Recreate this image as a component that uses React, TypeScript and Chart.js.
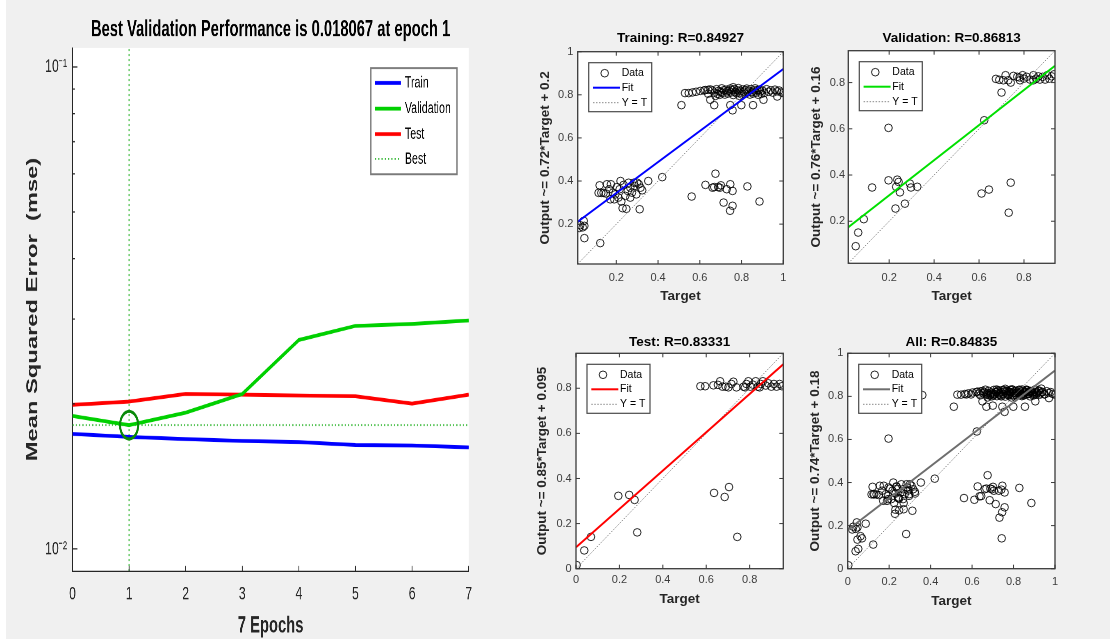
import React, { useEffect, useRef } from 'react';
import { Chart, registerables } from 'chart.js';

Chart.register(...registerables);

const FONT = '"Liberation Sans", Arial, Helvetica, sans-serif';

// ---------------- Performance plot data ----------------
const epochs = [0, 1, 2, 3, 4, 5, 6, 7];
const trainPerf = [0.01733, 0.01708, 0.01691, 0.01675, 0.01667, 0.01643, 0.0164, 0.01625];
const valPerf = [0.01888, 0.018067, 0.01918, 0.02097, 0.02714, 0.02903, 0.0293, 0.0298];
const testPerf = [0.0199, 0.02022, 0.02098, 0.0209, 0.02082, 0.02074, 0.02002, 0.0209];
const bestEpoch = 1;
const bestPerf = 0.018067;
const perfRange = [0.009, 0.1095];
const perfMajorTicks = [0.01, 0.1];
const perfMajorLabels = ['10⁻²', '10⁻¹'];
const perfMinorTicks = [0.02, 0.03, 0.04, 0.05, 0.06, 0.07, 0.08, 0.09];
const perfTitle = 'Best Validation Performance is 0.018067 at epoch 1';
const perfXTitle = '7 Epochs';
const perfYTitle = 'Mean Squared Error  (mse)';
const perfLegend = ['Train', 'Validation', 'Test', 'Best'];

// ---------------- Regression data ----------------
const trainTargets = [
  0.027, 0.039, 0.047, 0.022, 0.044, 0.047, 0.123, 0.12, 0.115, 0.128, 0.139, 0.155, 0.174, 0.166, 0.171,
  0.19, 0.195, 0.203, 0.216, 0.224, 0.23, 0.248, 0.235, 0.243, 0.255, 0.259, 0.267, 0.275, 0.288, 0.3,
  0.308, 0.316, 0.312, 0.324, 0.296, 0.353, 0.42, 0.22, 0.15, 0.184, 0.21, 0.267, 0.284,
  0.561, 0.627, 0.675, 0.669, 0.688, 0.701, 0.696, 0.714, 0.729, 0.746, 0.757, 0.757, 0.745, 0.828, 0.886, 0.661,
  0.512, 0.529, 0.547, 0.565, 0.582, 0.602, 0.626, 0.64, 0.65, 0.669, 0.746, 0.757, 0.799, 0.855, 0.905, 0.971, 1.0,
  0.66, 0.67, 0.68, 0.685, 0.69, 0.7, 0.705, 0.71, 0.715, 0.72, 0.725, 0.73, 0.735, 0.74, 0.745, 0.75, 0.755, 0.76,
  0.765, 0.77, 0.775, 0.78, 0.785, 0.79, 0.795, 0.8, 0.805, 0.81, 0.815, 0.82, 0.825, 0.83, 0.835, 0.84, 0.845,
  0.85, 0.855, 0.86, 0.865, 0.87, 0.875, 0.88, 0.885, 0.89, 0.895, 0.9, 0.91, 0.92, 0.93, 0.94, 0.95, 0.96, 0.97,
  0.98, 0.99, 0.62, 0.64, 0.65, 0.675, 0.695, 0.76, 0.79,
];
const trainOutputs = [
  0.195, 0.185, 0.192, 0.182, 0.215, 0.135, 0.112, 0.38, 0.345, 0.345, 0.345, 0.385, 0.385, 0.362, 0.315,
  0.315, 0.338, 0.372, 0.362, 0.305, 0.274, 0.271, 0.382, 0.331, 0.354, 0.392, 0.369, 0.346, 0.377, 0.392,
  0.385, 0.369, 0.269, 0.357, 0.338, 0.4, 0.418, 0.4, 0.342, 0.346, 0.323, 0.323, 0.392,
  0.328, 0.382, 0.434, 0.372, 0.372, 0.38, 0.369, 0.3, 0.362, 0.385, 0.354, 0.285, 0.262, 0.375, 0.305, 0.369,
  0.752, 0.808, 0.808, 0.811, 0.814, 0.818, 0.822, 0.823, 0.777, 0.752, 0.752, 0.728, 0.752, 0.752, 0.777, 0.792, 0.808,
  0.82, 0.81, 0.826, 0.804, 0.818, 0.813, 0.83, 0.809, 0.821, 0.801, 0.824, 0.816, 0.806, 0.819, 0.829, 0.811, 0.822, 0.799,
  0.826, 0.814, 0.807, 0.821, 0.831, 0.809, 0.818, 0.802, 0.825, 0.815, 0.805, 0.822, 0.829, 0.811, 0.819, 0.801, 0.826,
  0.813, 0.806, 0.82, 0.83, 0.81, 0.822, 0.8, 0.824, 0.816, 0.804, 0.82, 0.809, 0.826, 0.814, 0.821, 0.81, 0.824, 0.816,
  0.82, 0.811, 0.82, 0.805, 0.825, 0.795, 0.8, 0.835, 0.795,
];

const valTargets = [
  0.051, 0.062, 0.087, 0.124, 0.197, 0.197, 0.236, 0.242, 0.231, 0.248, 0.228, 0.27, 0.292, 0.297, 0.325,
  0.611, 0.644, 0.623, 0.7, 0.732, 0.741,
  0.675, 0.69, 0.708, 0.718, 0.73, 0.741, 0.753, 0.77, 0.782, 0.794, 0.8, 0.812, 0.827, 0.842, 0.854, 0.864,
  0.871, 0.883, 0.894, 0.904, 0.913, 0.923, 0.934, 0.842, 0.78,
];
const valOutputs = [
  0.092, 0.151, 0.209, 0.346, 0.604, 0.377, 0.38, 0.37, 0.349, 0.325, 0.255, 0.276, 0.363, 0.346, 0.349,
  0.32, 0.337, 0.637, 0.757, 0.237, 0.367,
  0.816, 0.812, 0.81, 0.832, 0.81, 0.8, 0.829, 0.825, 0.81, 0.832, 0.817, 0.825, 0.813, 0.832, 0.817, 0.827,
  0.813, 0.825, 0.813, 0.832, 0.817, 0.827, 0.836, 0.81, 0.822,
];

const testTargets = [
  0.003, 0.038, 0.069, 0.195, 0.245, 0.27, 0.282, 0.636, 0.685, 0.705, 0.743,
  0.573, 0.595, 0.633, 0.654, 0.664, 0.675, 0.69, 0.702, 0.716, 0.725, 0.739, 0.772, 0.785, 0.794, 0.803,
  0.815, 0.828, 0.838, 0.851, 0.861, 0.874, 0.886, 0.9, 0.912, 0.924, 0.938, 0.949, 0.846, 0.779,
];
const testOutputs = [
  0.016, 0.081, 0.141, 0.323, 0.327, 0.305, 0.161, 0.336, 0.318, 0.362, 0.141,
  0.809, 0.809, 0.813, 0.815, 0.831, 0.807, 0.807, 0.804, 0.819, 0.829, 0.804, 0.807, 0.819, 0.831, 0.807,
  0.816, 0.831, 0.807, 0.819, 0.831, 0.812, 0.822, 0.807, 0.819, 0.807, 0.819, 0.809, 0.804, 0.804,
];

const extraAllTargets = [0.36];
const extraAllOutputs = [0.806];
const allTargets = [...trainTargets, ...valTargets, ...testTargets, ...extraAllTargets];
const allOutputs = [...trainOutputs, ...valOutputs, ...testOutputs, ...extraAllOutputs];

const regLegend = ['Data', 'Fit', 'Y = T'];

const regPanels = [
  {
    key: 'train', title: 'Training: R=0.84927', yTitle: 'Output ~= 0.72*Target + 0.2',
    T: trainTargets, Y: trainOutputs, slope: 0.72, intercept: 0.2, color: '#0000ff',
    range: [0.015, 1.0], ticks: [0.2, 0.4, 0.6, 0.8, 1],
    box: { left: 530, top: 26, width: 265, height: 282 },
    L: { tTop: 4.8, tBot: 5.9, xH: 44, xTickPad: 7.5, xTitleBot: 3.8, yW: 47.7, yTitleTop: 7.5, yTickPad: 4.4, padR: 11.7 },
  },
  {
    key: 'val', title: 'Validation: R=0.86813', yTitle: 'Output ~= 0.76*Target + 0.16',
    T: valTargets, Y: valOutputs, slope: 0.76, intercept: 0.16, color: '#00e000',
    range: [0.018, 0.938], ticks: [0.2, 0.4, 0.6, 0.8],
    box: { left: 800, top: 26, width: 305, height: 282 },
    L: { tTop: 4.8, tBot: 4.9, xH: 44.7, xTickPad: 8.5, xTitleBot: 3.8, yW: 48.3, yTitleTop: 8.5, yTickPad: 3.3, padR: 50 },
  },
  {
    key: 'test', title: 'Test: R=0.83331', yTitle: 'Output ~= 0.85*Target + 0.095',
    T: testTargets, Y: testOutputs, slope: 0.85, intercept: 0.095, color: '#ff0000',
    range: [0, 0.955], ticks: [0, 0.2, 0.4, 0.6, 0.8],
    box: { left: 530, top: 328, width: 265, height: 282 },
    L: { tTop: 7.2, tBot: 3.1, xH: 41.3, xTickPad: 4.8, xTitleBot: 3.2, yW: 46, yTitleTop: 5.2, yTickPad: 4.3, padR: 11.7 },
  },
  {
    key: 'all', title: 'All: R=0.84835', yTitle: 'Output ~= 0.74*Target + 0.18',
    T: allTargets, Y: allOutputs, slope: 0.74, intercept: 0.18, color: '#6e6e6e',
    range: [0, 1], ticks: [0, 0.2, 0.4, 0.6, 0.8, 1],
    box: { left: 800, top: 328, width: 305, height: 282 },
    L: { tTop: 7.2, tBot: 3.1, xH: 41.3, xTickPad: 6.5, xTitleBot: 0.8, yW: 47.7, yTitleTop: 7.5, yTickPad: 4.4, padR: 50 },
  },
];

// ---------------- chart builders ----------------
function makePerf(canvas: HTMLCanvasElement) {
  const decor = {
    id: 'perfDecor',
    beforeDraw(chart: any) {
      const { ctx, chartArea: a } = chart;
      ctx.save();
      ctx.fillStyle = '#ffffff';
      ctx.fillRect(a.left, a.top, a.right - a.left, a.bottom - a.top);
      ctx.restore();
    },
    afterDraw(chart: any) {
      const { ctx, chartArea: a, scales } = chart;
      const x = scales.x;
      const y = scales.y;
      ctx.save();
      ctx.strokeStyle = '#262626';
      ctx.lineWidth = 1;
      ctx.beginPath();
      epochs.forEach((e) => {
        const px = x.getPixelForValue(e);
        ctx.moveTo(px, a.bottom);
        ctx.lineTo(px, a.bottom - 4);
      });
      perfMajorTicks.forEach((v) => {
        const py = y.getPixelForValue(v);
        ctx.moveTo(a.left, py);
        ctx.lineTo(a.left + 6, py);
      });
      perfMinorTicks.forEach((v) => {
        const py = y.getPixelForValue(v);
        ctx.moveTo(a.left, py);
        ctx.lineTo(a.left + 3, py);
      });
      ctx.stroke();

      // legend box
      const bw = 105;
      const bh = 85;
      const bx = a.right - 14.2 - bw;
      const by = a.top + 16;
      ctx.fillStyle = '#ffffff';
      ctx.fillRect(bx, by, bw, bh);
      ctx.strokeStyle = '#7a7a7a';
      ctx.lineWidth = 1.5;
      ctx.strokeRect(bx, by, bw, bh);
      const rows = [12, 32.5, 52.8, 72.8];
      perfLegend.forEach((label, i) => {
        const ds = chart.data.datasets.find((d: any) => d.label === label);
        const yy = by + rows[i];
        ctx.strokeStyle = ds.borderColor;
        ctx.lineWidth = ds.borderWidth;
        ctx.setLineDash(ds.borderDash || []);
        ctx.beginPath();
        ctx.moveTo(bx + 4.9, yy);
        ctx.lineTo(bx + 36.6, yy);
        ctx.stroke();
        ctx.setLineDash([]);
        ctx.fillStyle = '#000000';
        ctx.font = `13px ${FONT}`;
        ctx.textBaseline = 'middle';
        ctx.textAlign = 'left';
        ctx.fillText(label, bx + 41.4, yy);
      });
      ctx.restore();
    },
  };

  const pts = (arr: number[]) => epochs.map((e, i) => ({ x: e, y: arr[i] }));
  const bestStyle = { borderColor: '#3dbb3d', borderWidth: 1.4, borderDash: [1.5, 2.5], pointRadius: 0 };

  return new Chart(canvas, {
    type: 'line',
    data: {
      datasets: [
        {
          label: 'bestMarker', data: [{ x: bestEpoch, y: bestPerf }], showLine: false,
          pointRadius: 11, pointBorderWidth: 2.5, pointBorderColor: '#0a8a0a', pointBackgroundColor: 'rgba(0,0,0,0)',
        },
        { label: 'Train', data: pts(trainPerf), borderColor: '#0000ff', borderWidth: 3, pointRadius: 0, tension: 0 },
        { label: 'Validation', data: pts(valPerf), borderColor: '#00d000', borderWidth: 3, pointRadius: 0, tension: 0 },
        { label: 'Test', data: pts(testPerf), borderColor: '#ff0000', borderWidth: 3, pointRadius: 0, tension: 0 },
        { label: 'Best', data: [{ x: bestEpoch, y: perfRange[0] }, { x: bestEpoch, y: perfRange[1] }], ...bestStyle },
        { label: 'bestH', data: [{ x: epochs[0], y: bestPerf }, { x: epochs[epochs.length - 1], y: bestPerf }], ...bestStyle },
      ],
    } as any,
    options: {
      animation: false,
      responsive: true,
      maintainAspectRatio: false,
      devicePixelRatio: 2,
      layout: { padding: { left: 0, right: 11, top: 0, bottom: 0 } },
      plugins: {
        legend: { display: false },
        tooltip: { enabled: false },
        title: {
          display: true, text: perfTitle, fullSize: false, color: '#000000',
          font: { family: FONT, size: 18, weight: 'bold', lineHeight: '20px' },
          padding: { top: 14, bottom: 4.4 },
        },
      },
      scales: {
        x: {
          type: 'linear', min: 0, max: 7,
          afterBuildTicks: (s: any) => { s.ticks = epochs.map((v) => ({ value: v })); },
          afterFit: (s: any) => { s.height = 57.2; s.paddingLeft = 0; s.paddingRight = 0; },
          ticks: {
            autoSkip: false, maxRotation: 0, minRotation: 0, padding: 10.4, color: '#262626',
            font: { family: FONT, size: 15, lineHeight: '16px' },
          },
          grid: { display: false, drawTicks: false, tickLength: 0 },
          border: { display: true, color: '#262626', width: 1 },
          title: {
            display: true, text: perfXTitle, color: '#262626',
            font: { family: FONT, size: 18, weight: 'bold', lineHeight: '20px' },
            padding: { top: 0, bottom: 3.2 },
          },
        },
        y: {
          type: 'logarithmic', min: perfRange[0], max: perfRange[1],
          afterBuildTicks: (s: any) => { s.ticks = perfMajorTicks.map((v) => ({ value: v })); },
          afterFit: (s: any) => { s.width = 88.4; s.paddingTop = 0; s.paddingBottom = 0; },
          ticks: {
            autoSkip: false, padding: 6.7, color: '#262626',
            font: { family: FONT, size: 15, lineHeight: '16px' },
            callback: (v: any) => {
              const i = perfMajorTicks.findIndex((t) => Math.abs(t - Number(v)) < 1e-9);
              return i >= 0 ? perfMajorLabels[i] : '';
            },
          },
          grid: { display: false, drawTicks: false, tickLength: 0 },
          border: { display: true, color: '#262626', width: 1 },
          title: {
            display: true, text: perfYTitle, color: '#262626',
            font: { family: FONT, size: 19, weight: 'bold', lineHeight: '22px' },
            padding: { top: 29.2, bottom: 0 },
          },
        },
      },
    } as any,
    plugins: [decor],
  });
}

function makeReg(canvas: HTMLCanvasElement, p: any) {
  const lo = p.range[0];
  const hi = p.range[1];
  const L = p.L;
  const fitData = [lo, hi].map((t) => ({ x: t, y: p.slope * t + p.intercept }));
  const idData = [lo, hi].map((t) => ({ x: t, y: t }));
  const pts = p.T.map((t: number, i: number) => ({ x: t, y: p.Y[i] }));

  const decor = {
    id: 'regDecor',
    beforeDraw(chart: any) {
      const { ctx, chartArea: a } = chart;
      ctx.save();
      ctx.fillStyle = '#ffffff';
      ctx.fillRect(a.left, a.top, a.right - a.left, a.bottom - a.top);
      ctx.restore();
    },
    afterDraw(chart: any) {
      const { ctx, chartArea: a, scales } = chart;
      const x = scales.x;
      const y = scales.y;
      ctx.save();
      ctx.strokeStyle = '#3a3a3a';
      ctx.lineWidth = 1;
      ctx.beginPath();
      p.ticks.forEach((v: number) => {
        const px = x.getPixelForValue(v);
        ctx.moveTo(px, a.bottom); ctx.lineTo(px, a.bottom - 4);
        ctx.moveTo(px, a.top); ctx.lineTo(px, a.top + 4);
        const py = y.getPixelForValue(v);
        ctx.moveTo(a.left, py); ctx.lineTo(a.left + 4, py);
        ctx.moveTo(a.right, py); ctx.lineTo(a.right - 4, py);
      });
      ctx.stroke();
      ctx.lineWidth = 1.3;
      ctx.strokeRect(a.left, a.top, a.right - a.left, a.bottom - a.top);

      // legend
      const bx = a.left + 11;
      const by = a.top + 11;
      const bw = 63;
      const bh = 49;
      ctx.fillStyle = '#ffffff';
      ctx.fillRect(bx, by, bw, bh);
      ctx.strokeStyle = '#4a4a4a';
      ctx.lineWidth = 1.2;
      ctx.strokeRect(bx, by, bw, bh);
      const rows = [10.5, 25, 40];
      ctx.font = `10.5px ${FONT}`;
      ctx.textBaseline = 'middle';
      ctx.textAlign = 'left';
      regLegend.forEach((label, i) => {
        const ds = chart.data.datasets.find((d: any) => d.label === label);
        const yy = by + rows[i];
        if (label === 'Data') {
          ctx.strokeStyle = ds.pointBorderColor;
          ctx.lineWidth = 1;
          ctx.beginPath();
          ctx.arc(bx + 16, yy, ds.pointRadius, 0, Math.PI * 2);
          ctx.stroke();
        } else {
          ctx.strokeStyle = ds.borderColor;
          ctx.lineWidth = ds.borderWidth;
          ctx.setLineDash(ds.borderDash || []);
          ctx.beginPath();
          ctx.moveTo(bx + 4.3, yy);
          ctx.lineTo(bx + 31.3, yy);
          ctx.stroke();
          ctx.setLineDash([]);
        }
        ctx.fillStyle = '#000000';
        ctx.fillText(label, bx + 33, yy);
      });
      ctx.restore();
    },
  };

  const fmt = (v: any) => String(Math.round(Number(v) * 10) / 10);
  const axisTitleFont = { family: FONT, size: 13.5, weight: 'bold', lineHeight: '15px' };
  const tickFont = { family: FONT, size: 11, lineHeight: '13px' };

  return new Chart(canvas, {
    type: 'scatter',
    data: {
      datasets: [
        { label: 'Fit', data: fitData, showLine: true, borderColor: p.color, borderWidth: 2, pointRadius: 0 },
        { label: 'Y = T', data: idData, showLine: true, borderColor: '#8a8a8a', borderWidth: 1, borderDash: [1.5, 1.5], pointRadius: 0 },
        {
          label: 'Data', data: pts, showLine: false, pointRadius: 3.8, pointBorderWidth: 1,
          pointBorderColor: 'rgba(0,0,0,0.85)', pointBackgroundColor: 'rgba(0,0,0,0)',
        },
      ],
    } as any,
    options: {
      animation: false,
      responsive: true,
      maintainAspectRatio: false,
      layout: { padding: { left: 0, right: L.padR, top: 0, bottom: 0 } },
      plugins: {
        legend: { display: false },
        tooltip: { enabled: false },
        title: {
          display: true, text: p.title, fullSize: false, color: '#000000',
          font: axisTitleFont, padding: { top: L.tTop, bottom: L.tBot },
        },
      },
      scales: {
        x: {
          type: 'linear', min: lo, max: hi,
          afterBuildTicks: (s: any) => { s.ticks = p.ticks.map((v: number) => ({ value: v })); },
          afterFit: (s: any) => { s.height = L.xH; s.paddingLeft = 0; s.paddingRight = 0; },
          ticks: { autoSkip: false, maxRotation: 0, minRotation: 0, padding: L.xTickPad, color: '#3c3c3c', font: tickFont, callback: fmt },
          grid: { display: false, drawTicks: false, tickLength: 0 },
          border: { display: false },
          title: { display: true, text: 'Target', color: '#262626', font: axisTitleFont, padding: { top: 0, bottom: L.xTitleBot } },
        },
        y: {
          type: 'linear', min: lo, max: hi,
          afterBuildTicks: (s: any) => { s.ticks = p.ticks.map((v: number) => ({ value: v })); },
          afterFit: (s: any) => { s.width = L.yW; s.paddingTop = 0; s.paddingBottom = 0; },
          ticks: { autoSkip: false, padding: L.yTickPad, color: '#3c3c3c', font: tickFont, callback: fmt },
          grid: { display: false, drawTicks: false, tickLength: 0 },
          border: { display: false },
          title: { display: true, text: p.yTitle, color: '#262626', font: axisTitleFont, padding: { top: L.yTitleTop, bottom: 0 } },
        },
      },
    } as any,
    plugins: [decor],
  });
}

function ChartBox({ make, style }: { make: (c: HTMLCanvasElement) => Chart; style: React.CSSProperties }) {
  const ref = useRef<HTMLCanvasElement | null>(null);
  useEffect(() => {
    const chart = make(ref.current as HTMLCanvasElement);
    return () => chart.destroy();
  }, []);
  return (
    <div style={style}>
      <canvas ref={ref} />
    </div>
  );
}

export default function App() {
  return (
    <div style={{ position: 'fixed', left: 0, top: 0, width: 1110, height: 642, background: '#f0f0f0', overflow: 'hidden' }}>
      <div style={{ position: 'absolute', left: 0, top: 0, width: 6, height: 642, background: '#ffffff' }} />
      <div style={{ position: 'absolute', left: 0, top: 639, width: 1110, height: 3, background: '#ffffff' }} />
      <ChartBox
        make={makePerf}
        style={{ position: 'absolute', left: 0, top: 0, width: 585, height: 514, transform: 'scale(0.82, 1.25)', transformOrigin: '0 0' }}
      />
      {regPanels.map((p) => (
        <ChartBox
          key={p.key}
          make={(c) => makeReg(c, p)}
          style={{ position: 'absolute', left: p.box.left, top: p.box.top, width: p.box.width, height: p.box.height }}
        />
      ))}
    </div>
  );
}
